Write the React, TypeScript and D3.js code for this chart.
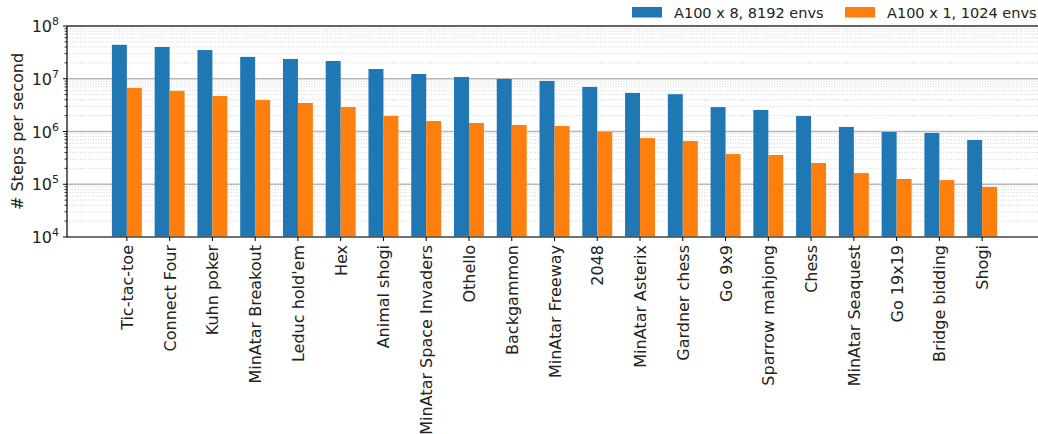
import React from 'react';
import * as d3 from 'd3';

const GAMES = [
  'Tic-tac-toe', 'Connect Four', 'Kuhn poker', 'MinAtar Breakout', "Leduc hold'em", 'Hex',
  'Animal shogi', 'MinAtar Space Invaders', 'Othello', 'Backgammon', 'MinAtar Freeway', '2048',
  'MinAtar Asterix', 'Gardner chess', 'Go 9x9', 'Sparrow mahjong', 'Chess', 'MinAtar Seaquest',
  'Go 19x19', 'Bridge bidding', 'Shogi',
];

// steps per second
const MULTI_GPU = [
  4.4e7, 4.0e7, 3.5e7, 2.6e7, 2.37e7, 2.17e7, 1.53e7, 1.23e7, 1.08e7, 9.9e6, 9.1e6, 7.0e6,
  5.4e6, 5.1e6, 2.9e6, 2.56e6, 1.97e6, 1.22e6, 9.8e5, 9.4e5, 6.9e5,
];
const SINGLE_GPU = [
  6.7e6, 5.9e6, 4.7e6, 3.95e6, 3.47e6, 2.91e6, 1.97e6, 1.58e6, 1.45e6, 1.33e6, 1.27e6, 9.8e5,
  7.5e5, 6.6e5, 3.74e5, 3.59e5, 2.53e5, 1.63e5, 1.26e5, 1.2e5, 8.9e4,
];

const SERIES = [
  { label: 'A100 x 8, 8192 envs', values: MULTI_GPU, color: '#1f77b4', offset: -1 },
  { label: 'A100 x 1, 1024 envs', values: SINGLE_GPU, color: '#ff7f0e', offset: 0 },
];

const Y_DECADES = [4, 5, 6, 7, 8];

const W = 1038;
const H = 434;
const left = 67;
const right = 1042;
const top = 26;
const bottom = 237;
const font = 'DejaVu Sans, sans-serif';
const barW = 0.35;

export default function App() {
  const x = d3.scaleLinear().domain([-1.4, GAMES.length - 1 + 1.4]).range([left, right]);
  const y = d3.scaleLog().domain([1e4, 1e8]).range([bottom, top]);

  const minor: number[] = [];
  for (let d = 4; d < 8; d++) {
    for (let m = 2; m <= 9; m++) minor.push(m * Math.pow(10, d));
  }

  return (
    <svg width={W} height={H} style={{ position: 'absolute', left: 0, top: 0 }} fontFamily={font}>
      <rect width={W} height={H} fill="#fff" />
      {/* minor grid */}
      {minor.map((v) => (
        <line key={'mg' + v} x1={left} x2={right} y1={y(v)} y2={y(v)} stroke="#c8c8c8"
          strokeWidth={0.8} strokeDasharray="1,1.6" />
      ))}
      {/* major grid */}
      {Y_DECADES.map((d) => (
        <line key={'g' + d} x1={left} x2={right} y1={y(Math.pow(10, d))} y2={y(Math.pow(10, d))}
          stroke="#b8b8b8" strokeWidth={1.4} />
      ))}
      {/* bars */}
      {SERIES.map((s) => (
        <g key={s.label} fill={s.color}>
          {s.values.map((v, i) => {
            const x0 = x(i + s.offset * barW);
            const x1 = x(i + (s.offset + 1) * barW);
            return <rect key={i} x={x0} y={y(v)} width={x1 - x0} height={bottom - y(v)} />;
          })}
        </g>
      ))}
      {/* spines */}
      <line x1={left} x2={right} y1={top} y2={top} stroke="#000" strokeWidth={1.2} />
      <line x1={left} x2={right} y1={bottom} y2={bottom} stroke="#555" strokeWidth={1.6} />
      <line x1={left} x2={left} y1={top} y2={bottom} stroke="#000" strokeWidth={1.2} />
      {/* y ticks */}
      {minor.map((v) => (
        <line key={'mt' + v} x1={left - 2.5} x2={left} y1={y(v)} y2={y(v)} stroke="#000" strokeWidth={0.8} />
      ))}
      {Y_DECADES.map((d) => {
        const yy = y(Math.pow(10, d));
        return (
          <g key={'t' + d}>
            <line x1={left - 4} x2={left} y1={yy} y2={yy} stroke="#000" strokeWidth={1} />
            <text x={left - 8} y={yy + 6} textAnchor="end" fontSize={16} fill="#222">
              10<tspan dy={-7} fontSize={11}>{d}</tspan>
            </text>
          </g>
        );
      })}
      <text transform={`translate(23,${(top + bottom) / 2}) rotate(-90)`} textAnchor="middle"
        fontSize={16} fill="#222">
        # Steps per second
      </text>
      {/* x ticks */}
      {GAMES.map((g, i) => (
        <g key={g} transform={`translate(${x(i)},${bottom})`}>
          <line y1={0} y2={4} stroke="#000" strokeWidth={1} />
          <text transform="translate(6,8) rotate(-90)" textAnchor="end" fontSize={16} fill="#222">
            {g}
          </text>
        </g>
      ))}
      {/* legend */}
      {SERIES.map((s, i) => {
        const lx = 632 + i * 213;
        return (
          <g key={'l' + s.label}>
            <rect x={lx} y={7} width={30} height={10.5} fill={s.color} />
            <text x={lx + 42} y={17.5} fontSize={14.5} fill="#222">{s.label}</text>
          </g>
        );
      })}
    </svg>
  );
}
